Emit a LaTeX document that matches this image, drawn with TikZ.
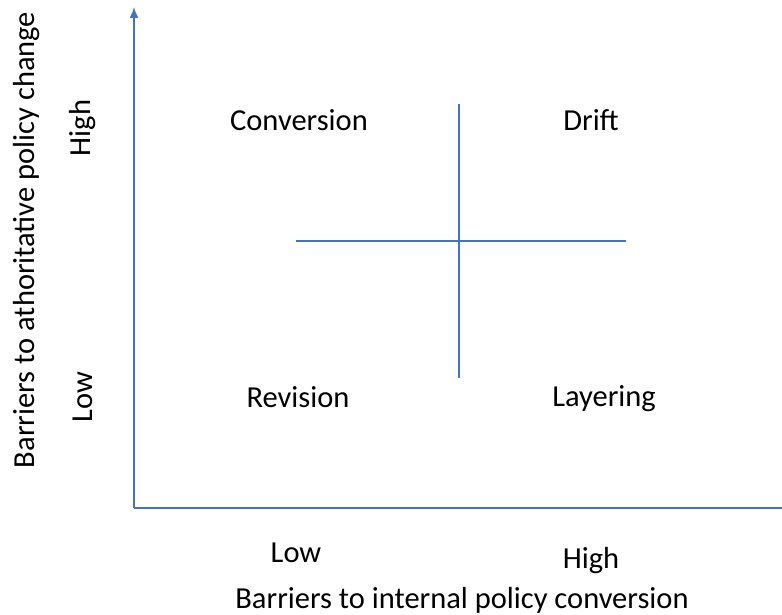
\documentclass[tikz,border=0pt]{standalone}
\usepackage{fontspec}
\setmainfont{Carlito}
\usetikzlibrary{arrows.meta}
\definecolor{axisblue}{HTML}{4472C4}
\begin{document}
\begin{tikzpicture}[x=1pt,y=-1pt,
  lbl/.style={font=\fontsize{30.5}{36}\selectfont, text=black, inner sep=0pt},
  axisline/.style={draw=axisblue, line width=1.6pt},
  quadline/.style={draw=axisblue, line width=1.4pt}]
\useasboundingbox (0,0) rectangle (782,615);
% axes
\coordinate (origin) at (134,508);
\coordinate (ytop) at (134,7);
\coordinate (xend) at (782,508);
\draw[axisline, -{Latex[length=11pt,width=9pt]}] (origin) -- (ytop);
\draw[axisline] (origin) -- (xend);
% quadrant divider
\coordinate (vtop) at (459,104);
\coordinate (vbot) at (459,378);
\coordinate (hleft) at (296,241);
\coordinate (hright) at (626,241);
\draw[quadline] (vtop) -- (vbot);
\draw[quadline] (hleft) -- (hright);
% quadrant labels
\node[lbl] (conv) at (299,120) {Conversion};
\node[lbl] (drift) at (591,120) {Drift};
\node[lbl] (rev) at (298,397) {Revision};
\node[lbl] (lay) at (604,399) {Layering};
% x axis labels
\node[lbl] (xlow) at (296,553) {Low};
\node[lbl] (xhigh) at (591,561) {High};
\node[lbl] (xtitle) at (462,600) {Barriers to internal policy conversion};
% y axis labels
\node[lbl, rotate=90] (yhigh) at (83,128) {High};
\node[lbl, rotate=90] (ylow) at (83,397) {Low};
\node[lbl, rotate=90] (ytitle) at (27,240) {Barriers to athoritative policy change};
\end{tikzpicture}
\end{document}
